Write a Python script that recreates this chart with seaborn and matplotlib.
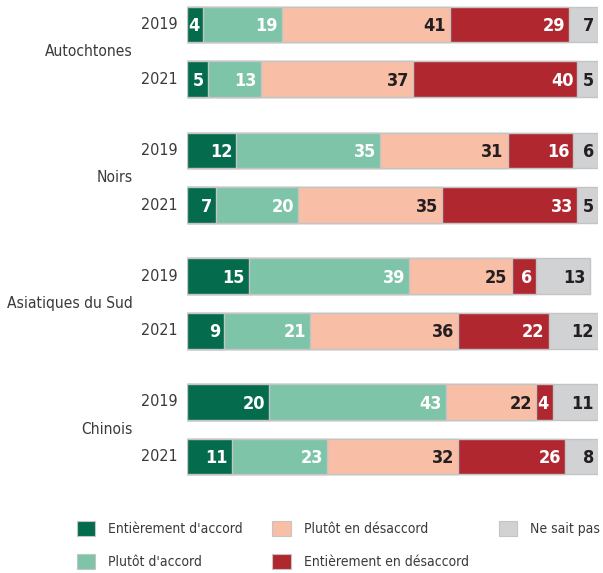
import matplotlib
matplotlib.use("Agg")
import matplotlib.pyplot as plt
from matplotlib.patches import Patch
import seaborn as sns
import pandas as pd
import numpy as np

groups = ["Autochtones", "Noirs", "Asiatiques du Sud", "Chinois"]
years = ["2019", "2021"]
categories = ["Entièrement d'accord", "Plutôt d'accord", "Plutôt en désaccord",
              "Entièrement en désaccord", "Ne sait pas"]

entierement_accord = [4, 5, 12, 7, 15, 9, 20, 11]
plutot_accord = [19, 13, 35, 20, 39, 21, 43, 23]
plutot_desaccord = [41, 37, 31, 35, 25, 36, 22, 32]
entierement_desaccord = [29, 40, 16, 33, 6, 22, 4, 26]
ne_sait_pas = [7, 5, 6, 5, 13, 12, 11, 8]

series = [entierement_accord, plutot_accord, plutot_desaccord,
          entierement_desaccord, ne_sait_pas]
colors = ["#056b4d", "#7ec4a9", "#f9bea6", "#b0272f", "#d1d2d4"]
label_colors = ["white", "white", "#231f20", "white", "#231f20"]

sns.set_style("white")
fam = ["DejaVu Sans"]
plt.rcParams["font.family"] = fam
plt.rcParams["font.stretch"] = "condensed"
ST = "condensed"

W, H = 603, 573
fig = plt.figure(figsize=(W / 100, H / 100), dpi=100)
ax_top, ax_bot = 0, 490
ax = fig.add_axes([187 / W, 1 - ax_bot / H, 411 / W, (ax_bot - ax_top) / H])

group_step = 2.3
ypos = []
for g in range(len(groups)):
    for y in range(len(years)):
        ypos.append(g * group_step + y)
ypos = np.array(ypos)

vals = np.array(series, dtype=float)
cum = np.cumsum(vals, axis=0)

for k in reversed(range(len(series))):
    df = pd.DataFrame({"x": cum[k], "y": ypos})
    sns.barplot(data=df, x="x", y="y", orient="y", native_scale=True,
                color=colors[k], saturation=1, width=0.65, errorbar=None,
                edgecolor="#c4c4c4", linewidth=1.0, ax=ax)

for k in range(len(series)):
    for i in range(len(ypos)):
        ax.text(cum[k][i] - 1.0, ypos[i] + 0.03, f"{int(vals[k][i])}",
                ha="right", va="center", fontsize=13, fontweight="bold",
                color=label_colors[k], family=fam, stretch=ST)

ppu = 54.7
y0 = -24.5 / ppu
y1 = y0 + (ax_bot - ax_top) / ppu
ax.set_ylim(y1, y0)
ax.set_xlim(0, 100)
ax.axis("off")

for i, yp in enumerate(ypos):
    ax.text(-2.4, yp, years[i % 2], ha="right", va="center", fontsize=11.5,
            color="#3a3a3a", family=fam, stretch=ST)
for g, name in enumerate(groups):
    ax.text(-13.3, g * group_step + 0.5, name, ha="right", va="center",
            fontsize=11.2, color="#3a3a3a", family=fam, stretch=ST)

handles = [Patch(facecolor=c, edgecolor="#c4c4c4", linewidth=0.8) for c in colors]
leg = fig.legend(handles, categories, ncol=3, loc="upper left",
                 bbox_to_anchor=(67 / W, 1 - 511 / H), frameon=False,
                 prop={"family": fam, "stretch": ST, "size": 10},
                 handlelength=1.3, handleheight=1.3,
                 handletextpad=0.95, columnspacing=2.15, labelspacing=1.3,
                 borderpad=0.2)
for t in leg.get_texts():
    t.set_color("#3a3a3a")

fig.savefig("out.png", dpi=100)
